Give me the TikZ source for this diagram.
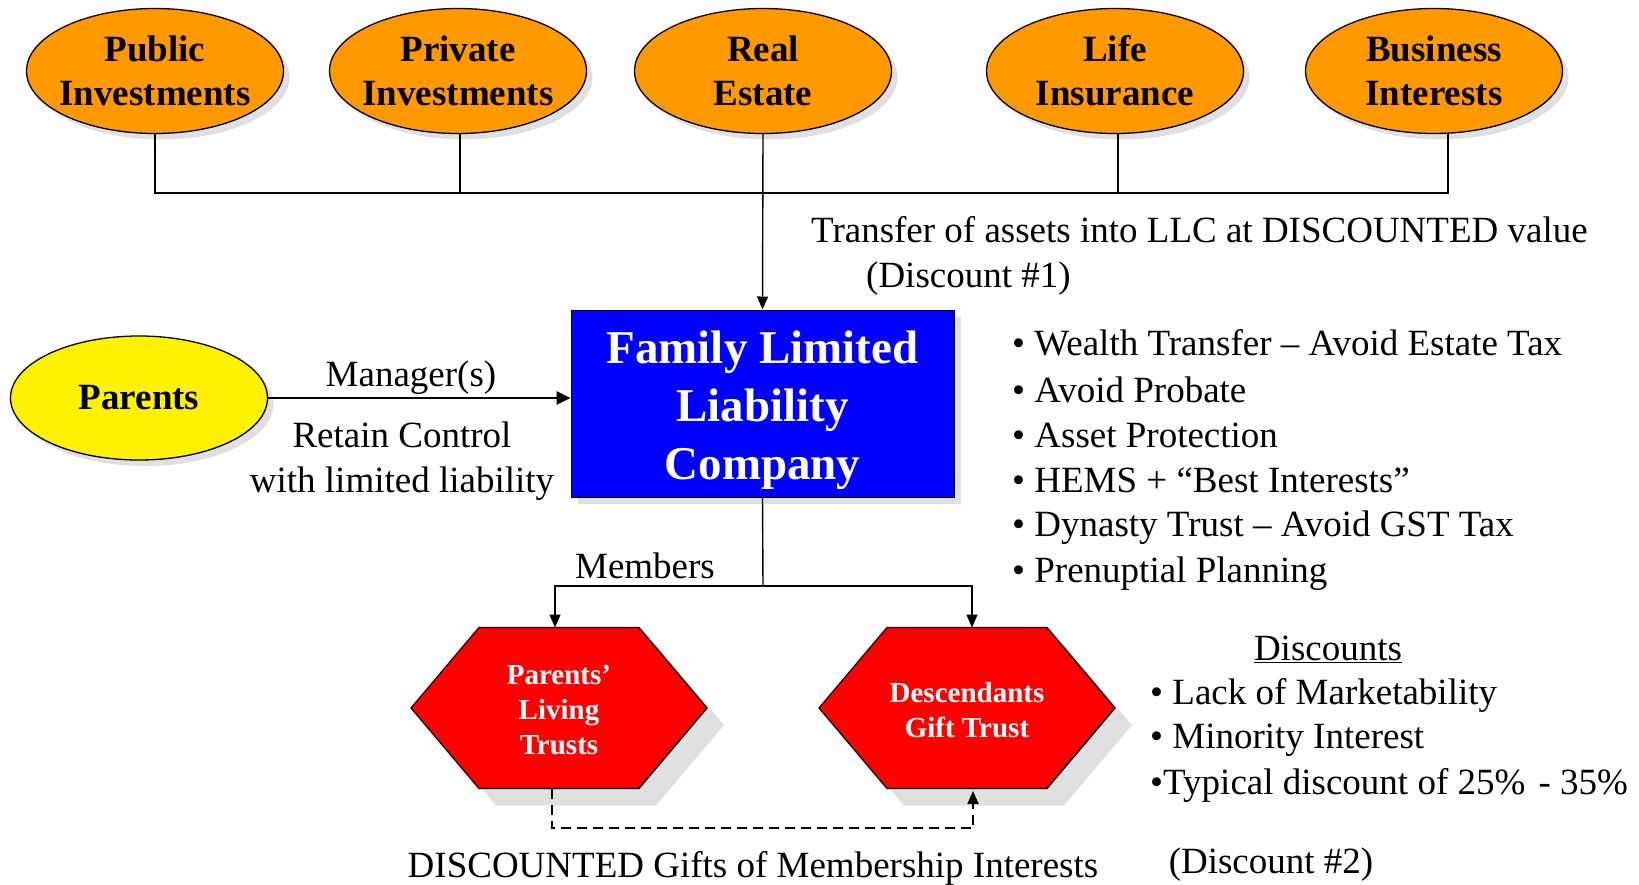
\documentclass[tikz,border=0pt]{standalone}
\usepackage{fontspec}
\setmainfont{Liberation Serif}
\usetikzlibrary{arrows.meta,shapes.geometric,shadows,calc}
\definecolor{assetorange}{RGB}{255,153,0}
\definecolor{shadowgray}{RGB}{224,224,224}
\begin{document}
\begin{tikzpicture}[x=1pt,y=-1pt,
  asset/.style={ellipse, draw=black, line width=1.3pt, fill=assetorange,
    minimum width=257pt, minimum height=125pt, inner sep=0pt,
    general shadow={fill=shadowgray, shadow xshift=6pt, shadow yshift=-6pt}},
  assettext/.style={align=center, inner sep=0pt,
    font=\fontsize{37}{44}\selectfont\bfseries},
  parentsnode/.style={asset, fill=yellow, minimum width=257pt, minimum height=124pt},
  llcbox/.style={rectangle, draw=black, line width=1pt, fill=blue,
    minimum width=383pt, minimum height=187pt, inner sep=0pt,
    general shadow={fill=shadowgray, shadow xshift=7pt, shadow yshift=-7pt}},
  llctext/.style={text=white, align=center, inner sep=0pt,
    font=\fontsize{47}{58}\selectfont\bfseries},
  hextext/.style={text=white, align=center, font=\fontsize{29}{35}\selectfont\bfseries},
  hexshape/.style={draw=black, line width=1.3pt, fill=red},
  hexshadow/.style={fill=shadowgray},
  lbl/.style={font=\fontsize{37}{45}\selectfont, inner sep=0pt, align=center},
  conn/.style={draw=black, line width=1.4pt},
  arr/.style={conn, -{Triangle[length=13pt,width=11pt]}},
  thickarr/.style={draw=black, line width=2.6pt, -{Triangle[length=14pt,width=13pt]}},
  dasharr/.style={draw=black, line width=1.8pt, dash pattern=on 10pt off 6pt, -{Triangle[length=13pt,width=11pt]}}
]
\useasboundingbox (0,0) rectangle (1639,884);

% asset ellipses
\node[asset] (pub)  at (155,71)  {};
\node[asset] (priv) at (458,71)  {};
\node[asset] (real) at (763,71)  {};
\node[asset] (life) at (1115,71) {};
\node[asset] (bus)  at (1434,71) {};
\node[assettext] (pubt)  at (pub)  {Public\\Investments};
\node[assettext] (privt) at (priv) {Private\\Investments};
\node[assettext] (realt) at (real) {Real\\Estate};
\node[assettext] (lifet) at (life) {Life\\Insurance};
\node[assettext] (bust)  at (bus)  {Business\\Interests};

% LLC box and parents
\node[llcbox] (box) at (762.5,403.5) {};
\node[llctext] (boxt) at (762.5,410.5) {Family Limited\\Liability\\Company};
\node[parentsnode] (par) at (139,398) {};
\node[assettext] (part) at (par) {Parents};

% hexagons
\fill[hexshadow] (496,644.5) -- (656,644.5) -- (724,725) -- (656,805.5) -- (496,805.5) -- (428,725) -- cycle;
\fill[hexshadow] (904,644.5) -- (1064,644.5) -- (1132,725) -- (1064,805.5) -- (904,805.5) -- (836,725) -- cycle;
\path[hexshape] (479,627.5) -- (639,627.5) -- (707,708) -- (639,788.5) -- (479,788.5) -- (411,708) -- cycle;
\path[hexshape] (887,627.5) -- (1047,627.5) -- (1115,708) -- (1047,788.5) -- (887,788.5) -- (819,708) -- cycle;
\node[hextext] (hex1) at (559,710) {Parents’\\Living\\Trusts};
\node[hextext] (hex2) at (967,710) {Descendants\\Gift Trust};

% coordinates
\coordinate (hl) at (154,193);
\coordinate (hr) at (1448,193);
\coordinate (mj) at (763,586);
\coordinate (h1top) at (555,627.5);
\coordinate (h2top) at (972,627.5);
\coordinate (d1) at (552,788.5);
\coordinate (dl) at (552,828);
\coordinate (d2) at (973,791);

% connectors from assets
\draw[conn] (pub.south) -- (pub.south |- hl) -- (hr) -- ([xshift=14pt]bus.south);
\draw[conn] ([xshift=2pt]priv.south) -- ([xshift=2pt]priv.south |- hl);
\draw[conn] ([xshift=3pt]life.south) -- ([xshift=3pt]life.south |- hl);
\draw[arr] (real.south) -- (box.north);

% parents to LLC
\draw[thickarr] (par.east) -- (box.west |- par.east);

% LLC to trusts
\draw[conn] (box.south) -- (mj);
\draw[arr] (mj) -| (h1top);
\draw[arr] (mj) -| (h2top);

% dashed gift
\draw[dasharr] (d1) -- (dl) -| (d2);

% labels
\node[lbl, anchor=west] (t1) at (811,230) {Transfer of assets into LLC at DISCOUNTED value};
\node[lbl, anchor=west] (t2) at (866,279) {(Discount \#1)};
\node[lbl] (mgr) at (411,378) {Manager(s)};
\node[lbl] (ret) at (402,435) {Retain Control};
\node[lbl] (wll) at (402,484) {with limited liability};
\node[lbl] (mem) at (645,566) {Members};
\node[lbl] (gifts) at (753,868) {DISCOUNTED Gifts of Membership Interests};
\node[lbl] (d2lbl) at (1271,865) {(Discount \#2)};

% benefits
\node[lbl, anchor=west] (b1) at (1012,343) {• Wealth Transfer – Avoid Estate Tax};
\node[lbl, anchor=west] (b2) at (1012,390) {• Avoid Probate};
\node[lbl, anchor=west] (b3) at (1012,435) {• Asset Protection};
\node[lbl, anchor=west] (b4) at (1012,480) {• HEMS + “Best Interests”};
\node[lbl, anchor=west] (b5) at (1012,528) {• Dynasty Trust – Avoid GST Tax};
\node[lbl, anchor=west] (b6) at (1012,574) {• Prenuptial Planning};

% discounts
\node[lbl] (disc) at (1328,649) {\underline{Discounts}};
\node[lbl, anchor=west] (c1) at (1150,695) {• Lack of Marketability};
\node[lbl, anchor=west] (c2) at (1150,740) {• Minority Interest};
\node[lbl, anchor=west] (c3) at (1150,785) {•Typical discount of 25\%\hspace{4pt} - 35\%};
\end{tikzpicture}
\end{document}
